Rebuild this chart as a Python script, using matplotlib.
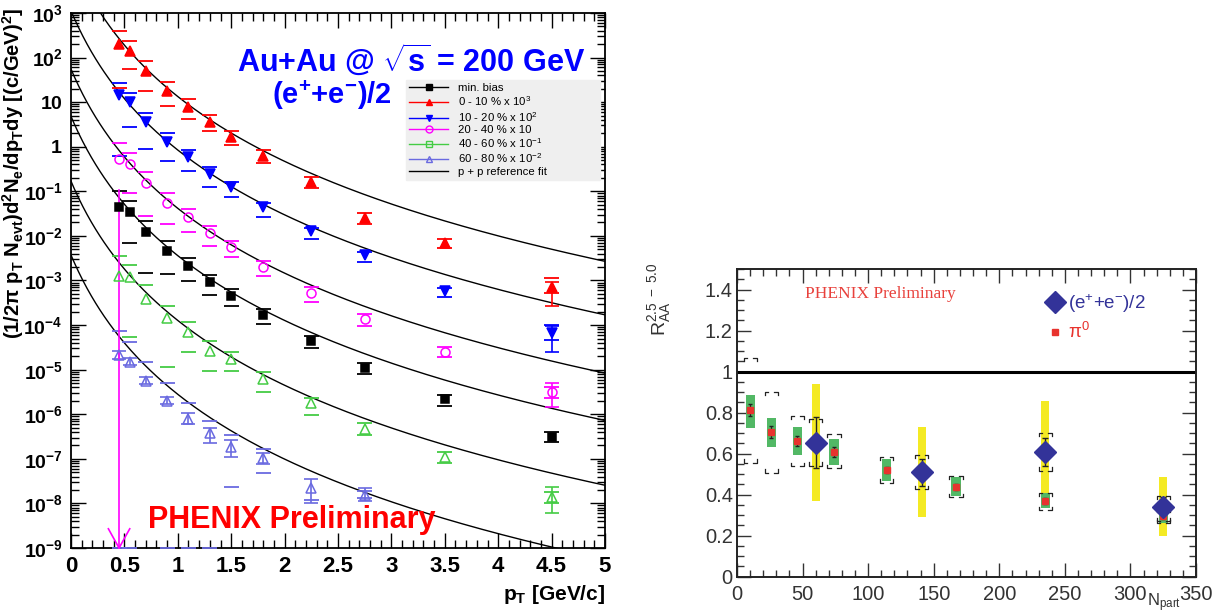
#!/usr/bin/env python3
"""Au+Au single electron spectra (left) and R_AA vs N_part (right)."""
import numpy as np
import matplotlib
matplotlib.use("Agg")
import matplotlib.pyplot as plt
from matplotlib.lines import Line2D
from matplotlib.ticker import MultipleLocator, LogLocator, NullFormatter

plt.rcParams["font.family"] = ["Liberation Sans", "DejaVu Sans"]
plt.rcParams["mathtext.fontset"] = "custom"
plt.rcParams["mathtext.rm"] = "Liberation Sans"
plt.rcParams["mathtext.it"] = "Liberation Sans:italic"
plt.rcParams["mathtext.bf"] = "Liberation Sans:bold"
plt.rcParams["mathtext.default"] = "bf"

nan = np.nan

# ---- left panel: invariant yields ----
PT = [0.45, 0.55, 0.7, 0.9, 1.1, 1.3, 1.5, 1.8, 2.25, 2.75, 3.5, 4.5]

mb_y = [0.0452, 0.0349, 0.0120, 0.00466, 0.00215, 9.1e-4, 4.56e-4, 1.68e-4, 4.40e-5, 1.07e-5, 2.16e-6, 3.13e-7]
mb_hi = [0.103, 0.0617, 0.0219, 0.00767, 0.00325, 0.00133, 6.44e-4, 2.25e-4, 5.77e-5, 1.39e-5, 2.70e-6, 3.93e-7]
mb_lo = [nan, 0.00683, 0.00145, 0.00138, 9.7e-4, 4.72e-4, 2.68e-4, 1.04e-4, 3.1e-5, 7.85e-6, 1.55e-6, 2.34e-7]

c0010_y = [202, 141, 50, 17.8, 7.8, 3.59, 1.65, 0.62, 0.162, 0.0252, 0.00693, 7.1e-4]
c0010_hi = [395, 235, 84, 28.3, 11.8, 5.15, 2.25, 0.845, 0.209, 0.0327, 0.00853, 1.14e-3]
c0010_lo = [20.8, 55.5, 17.8, 8.2, 4.19, 2.25, 1.09, 0.43, 0.119, 0.0185, 0.00536, 5.24e-4]
c0010_stat45 = (9.25e-4, 2.68e-4)

c1020_y = [14.5, 10.2, 3.65, 1.30, 0.598, 0.245, 0.127, 0.0437, 0.0131, 0.00373, 5.9e-4, 6.75e-5]
c1020_hi = [26.9, 16.3, 5.81, 2.0, 0.845, 0.346, 0.164, 0.0556, 0.0148, 0.00443, 6.67e-4, 1.0e-4]
c1020_lo = [0.62, 2.82, 0.889, 0.486, 0.290, 0.127, 0.0733, 0.0270, 0.00837, 0.00264, 4.2e-4, 4.62e-5]
c1020_stat45 = (9.5e-5, 2.52e-5)

c2040_y = [0.522, 0.410, 0.151, 0.0556, 0.0261, 0.0114, 0.00573, 0.00204, 5.16e-4, 1.37e-4, 2.52e-5, 3.2e-6]
c2040_hi = [1.19, 0.734, 0.267, 0.0902, 0.0395, 0.0167, 0.0078, 0.00277, 7.03e-4, 1.77e-4, 3.27e-5, 4.14e-6]
c2040_lo = [nan, 0.0902, 0.0284, 0.0185, 0.0124, 0.00602, 0.00331, 0.00126, 3.34e-4, 9.7e-5, 1.89e-5, 2.28e-6]
c2040_stat45 = (4.94e-6, 1.48e-6)

c4060_y = [0.00128, 0.00118, 3.85e-4, 1.42e-4, 7.1e-5, 2.66e-5, 1.71e-5, 6.07e-6, 1.76e-6, 4.66e-7, 1.11e-7, 1.41e-8]
c4060_hi = [0.00354, 0.00222, 7.93e-4, 2.68e-4, 1.19e-4, 4.46e-5, 2.52e-5, 8.7e-6, 2.28e-6, 6.25e-7, 1.44e-7, 1.83e-8]
c4060_lo = [nan, 5.3e-5, nan, 1.13e-5, 2.52e-5, 9.5e-6, 9.5e-6, 3.2e-6, 9.6e-7, 3.42e-7, 7.9e-8, 1.0e-8]
c4060_stat45 = (2.3e-8, 6.0e-9)

# 60-80 % only measured up to 2.75 GeV/c
c6080_y = [2.13e-5, 1.51e-5, 5.65e-6, 2.01e-6, 7.8e-7, 3.73e-7, 1.87e-7, 1.03e-7, 2.18e-8, 1.54e-8]
c6080_hi = [7.46e-5, 4.1e-5, 1.51e-5, 4.94e-6, 1.76e-6, 7.2e-7, 3.42e-7, 1.63e-7, nan, 1.92e-8]
c6080_lo = [1e-9, 1e-9, nan, 1e-9, 1e-9, 1e-9, 2.3e-8, 4.73e-8, 1.19e-8, 1.3e-8]
c6080_stat_hi = [2.66e-5, 1.82e-5, 6.84e-6, 2.47e-6, 1.05e-6, 4.83e-7, 2.64e-7, 1.33e-7, 3.52e-8, 2.18e-8]
c6080_stat_lo = [1.73e-5, 1.27e-5, 4.69e-6, 1.67e-6, 6.04e-7, 2.23e-7, 1.08e-7, 7.64e-8, 1.04e-8, 1.15e-8]

# lower-limit arrow of the 20-40 % point at 0.45 GeV/c
arrow_pt = 0.45
arrow_top = 0.107

# p+p reference fit, scaled by N_coll and the plotting factor
pp_A, pp_p0, pp_n = 0.01866, 0.5, 6.55
NCOLL = {"mb": 257.8, "0010": 955.4, "1020": 602.6, "2040": 296.8, "4060": 90.7, "6080": 20.0}
FACTOR = {"mb": 1.0, "0010": 1e3, "1020": 1e2, "2040": 10.0, "4060": 0.1, "6080": 0.01}

# ---- right panel: R_AA (2.5 - 5.0 GeV/c) ----
npart_pi0 = [10, 26, 46, 74, 114, 167, 235, 325]
raa_pi0 = [0.813, 0.704, 0.662, 0.609, 0.520, 0.438, 0.370, 0.295]
raa_pi0_stat = [0.03, 0.028, 0.025, 0.024, 0.015, 0.015, 0.015, 0.015]
raa_pi0_sys_lo = [0.724, 0.634, 0.593, 0.544, 0.468, 0.393, 0.333, 0.260]
raa_pi0_sys_hi = [0.886, 0.772, 0.728, 0.670, 0.572, 0.484, 0.406, 0.325]
raa_pi0_br_lo = [0.556, 0.507, 0.540, 0.528, 0.458, 0.387, 0.325, 0.27]
raa_pi0_br_hi = [1.065, 0.902, 0.785, 0.696, 0.585, 0.491, 0.409, 0.33]

npart_e = [60, 141, 235, 325]
raa_e = [0.653, 0.510, 0.606, 0.341]
raa_e_stat_lo = [0.528, 0.442, 0.540, 0.292]
raa_e_stat_hi = [0.780, 0.572, 0.678, 0.387]
raa_e_sys_lo = [0.370, 0.292, 0.40, 0.198]
raa_e_sys_hi = [0.940, 0.727, 0.857, 0.484]
raa_e_br_lo = [0.541, 0.426, 0.516, 0.260]
raa_e_br_hi = [0.769, 0.593, 0.702, 0.393]

W, H = 1221, 614
fig = plt.figure(figsize=(W / 100, H / 100), dpi=100)


def px_axes(x0, y0, x1, y1):
    return fig.add_axes([x0 / W, 1 - y1 / H, (x1 - x0) / W, (y1 - y0) / H])


# ================= left =================
axL = px_axes(71, 13, 605, 548)
axL.set_yscale("log")
axL.set_xlim(0, 5)
axL.set_ylim(1e-9, 1e3)

pt_fine = np.linspace(0.0, 5.0, 500)
pp_fit = pp_A * (1 + pt_fine / pp_p0) ** (-pp_n)
for key in NCOLL:
    axL.plot(pt_fine, pp_fit * NCOLL[key] * FACTOR[key], color="black", lw=1.0, zorder=2)

HW = 0.07  # half width of the error dashes


def dashes(x, vals, color):
    x = np.asarray(x, float)
    v = np.asarray(vals, float)
    ok = ~np.isnan(v)
    axL.hlines(v[ok], x[ok] - HW, x[ok] + HW, colors=color, lw=1.3, zorder=3, clip_on=False)


series = [
    ("mb", mb_y, mb_hi, mb_lo, "black", "s", True),
    ("0010", c0010_y, c0010_hi, c0010_lo, "#ff0000", "^", True),
    ("1020", c1020_y, c1020_hi, c1020_lo, "#0000ff", "v", True),
    ("2040", c2040_y, c2040_hi, c2040_lo, "#ff00ff", "o", False),
    ("4060", c4060_y, c4060_hi, c4060_lo, "#44cc44", "^", False),
    ("6080", c6080_y, c6080_hi, c6080_lo, "#6a6ae0", "^", False),
]
stat45 = {"0010": c0010_stat45, "1020": c1020_stat45, "2040": c2040_stat45, "4060": c4060_stat45}

for key, y, hi, lo, col, mk, filled in series:
    x = PT[:len(y)]
    dashes(x, hi, col)
    dashes(x, lo, col)
    if key in stat45:
        sh, sl = stat45[key]
        axL.errorbar([x[-1]], [y[-1]], yerr=[[y[-1] - sl], [sh - y[-1]]], fmt="none",
                     ecolor=col, elinewidth=1.2, capsize=5, capthick=1.2, zorder=3)
    if key == "6080":
        ys = np.asarray(y)
        axL.errorbar(x, ys, yerr=[ys - np.asarray(c6080_stat_lo), np.asarray(c6080_stat_hi) - ys],
                     fmt="none", ecolor=col, elinewidth=1.2, capsize=5, capthick=1.2, zorder=3)
    axL.plot(x, y, ls="none", marker=mk, ms=6.5 if mk != "s" else 6,
             mfc=col if filled else "none", mec=col, mew=1.1, zorder=4)

# magenta lower-limit arrow
axL.plot([arrow_pt, arrow_pt], [arrow_top, 1e-9], color="#ff00ff", lw=1.2, zorder=3, clip_on=False)
axL.plot([arrow_pt - 0.1, arrow_pt, arrow_pt + 0.1], [2.7e-9, 1e-9, 2.7e-9],
         color="#ff00ff", lw=1.2, zorder=3, clip_on=False)

xt = np.arange(0, 5.01, 0.5)
axL.set_xticks(xt)
axL.set_xticklabels(["%g" % v for v in xt], fontsize=16, fontweight="bold")
axL.xaxis.set_minor_locator(MultipleLocator(0.1))
ydec = list(range(-9, 4))
axL.set_yticks([10.0 ** d for d in ydec])
axL.yaxis.set_minor_locator(LogLocator(base=10, subs=np.arange(2, 10), numticks=20))
axL.yaxis.set_minor_formatter(NullFormatter())
ylabs = []
for d in ydec:
    if d == 0:
        ylabs.append(r"$1$")
    elif d == 1:
        ylabs.append(r"$10$")
    else:
        ylabs.append(r"$10^{%d}$" % d)
axL.set_yticklabels(ylabs, fontsize=14)
axL.tick_params(which="both", direction="in", top=True, right=True, width=1.0)
axL.tick_params(which="major", length=11, pad=6)
axL.tick_params(which="minor", length=5.5)
for s in axL.spines.values():
    s.set_linewidth(1.3)

fig.text(13 / W, 1 - 8 / H,
         r"(1/2$\pi$ p$_T$ N$_{evt}$)d$^2$N$_e$/dp$_T$dy [(c/GeV)$^2$]",
         rotation=90, ha="center", va="top", fontsize=14.5, fontweight="bold")
fig.text(605 / W, 1 - 600 / H, r"p$_T$ [GeV/c]", ha="right", va="baseline",
         fontsize=15, fontweight="bold")
fig.text(411 / W, 1 - 72 / H, r"Au+Au @ $\sqrt{s}$ = 200 GeV", ha="center",
         va="baseline", fontsize=22, fontweight="bold", color="#0000ff")
fig.text(332 / W, 1 - 104 / H, r"(e$^{+}$+e$^{-}$)/2", ha="center",
         va="baseline", fontsize=21, fontweight="bold", color="#0000ff")
fig.text(292 / W, 1 - 528 / H, "PHENIX Preliminary", ha="center", va="baseline",
         fontsize=22, fontweight="bold", color="#ff0000")

handles = [
    Line2D([], [], color="black", marker="s", ms=5, lw=1),
    Line2D([], [], color="#ff0000", marker="^", ms=5, lw=1),
    Line2D([], [], color="#0000ff", marker="v", ms=5, lw=1),
    Line2D([], [], color="#ff00ff", marker="o", ms=5, mfc="none", lw=1),
    Line2D([], [], color="#44cc44", marker="s", ms=5, mfc="none", lw=1),
    Line2D([], [], color="#6a6ae0", marker="^", ms=5, mfc="none", lw=1),
    Line2D([], [], color="black", lw=1),
]
labels = ["min. bias", r"0 - 10 % x 10$^{\mathrm{3}}$", r"10 - 20 % x 10$^{\mathrm{2}}$",
          "20 - 40 % x 10", r"40 - 60 % x 10$^{\mathrm{-1}}$", r"60 - 80 % x 10$^{\mathrm{-2}}$",
          "p + p reference fit"]
leg = axL.legend(handles, labels, loc="upper left", bbox_to_anchor=(0.627, 0.688, 0.364, 0.187),
                 mode="expand", fontsize=8.2, frameon=True, fancybox=False, framealpha=1,
                 facecolor="#efefef", edgecolor="#efefef", handlelength=3.4,
                 labelspacing=0.12, borderpad=0.3, handletextpad=0.9, borderaxespad=0)
leg.set_zorder(5)

# ================= right =================
axR = px_axes(737, 269, 1196, 576.5)
axR.set_xlim(0, 350)
axR.set_ylim(0, 1.5)
axR.axhline(1.0, color="black", lw=2.2, zorder=2)

axR.bar(npart_e, np.subtract(raa_e_sys_hi, raa_e_sys_lo), bottom=raa_e_sys_lo, width=6,
        color="#f4ea24", zorder=2)
axR.bar(npart_pi0, np.subtract(raa_pi0_sys_hi, raa_pi0_sys_lo), bottom=raa_pi0_sys_lo, width=7,
        color="#52b865", zorder=3)


def brackets(xs, los, his):
    bw, bs, leg_h = 5.0, 2.6, 0.016
    for x, lo, hi in zip(xs, los, his):
        for yv, d in ((hi, -leg_h), (lo, leg_h)):
            axR.plot([x - bw, x - bw, x - bw + bs], [yv + d, yv, yv], color="#222222", lw=0.9, zorder=4)
            axR.plot([x + bw, x + bw, x + bw - bs], [yv + d, yv, yv], color="#222222", lw=0.9, zorder=4)


brackets(npart_pi0, raa_pi0_br_lo, raa_pi0_br_hi)
brackets(npart_e, raa_e_br_lo, raa_e_br_hi)

axR.errorbar(npart_pi0, raa_pi0, yerr=raa_pi0_stat, fmt="none", ecolor="#222222",
             elinewidth=0.9, capsize=1.5, zorder=5)
axR.errorbar(npart_e, raa_e, yerr=[np.subtract(raa_e, raa_e_stat_lo), np.subtract(raa_e_stat_hi, raa_e)],
             fmt="none", ecolor="#222222", elinewidth=1.0, capsize=2.5, zorder=5)
axR.plot(npart_pi0, raa_pi0, ls="none", marker="s", ms=5, color="#e8332e", zorder=6)
axR.plot(npart_e, raa_e, ls="none", marker="D", ms=11, color="#333399", zorder=7)

axR.xaxis.set_major_locator(MultipleLocator(50))
axR.xaxis.set_minor_locator(MultipleLocator(10))
axR.set_yticks([0, 0.2, 0.4, 0.6, 0.8, 1.0, 1.2, 1.4])
axR.set_yticklabels(["0", "0.2", "0.4", "0.6", "0.8", "1", "1.2", "1.4"])
axR.yaxis.set_minor_locator(MultipleLocator(0.05))
axR.tick_params(which="both", direction="in", top=True, right=True, colors="#333333",
                labelsize=14.5, width=1.0)
axR.tick_params(which="major", length=10)
axR.tick_params(which="minor", length=5)
axR.tick_params(axis="x", pad=6)
axR.tick_params(axis="y", pad=3)
for s in axR.spines.values():
    s.set_linewidth(1.4)
    s.set_color("#222222")

fig.text(880 / W, 1 - 298 / H, "PHENIX Preliminary", ha="center", va="baseline",
         fontsize=12.5, color="#e8413c", family="Liberation Serif")
fig.text(660 / W, 1 - 262 / H, r"R$_{\mathrm{AA}}^{\mathrm{2.5\ -\ 5.0}}$", rotation=90, ha="center",
         va="top", fontsize=14, color="#333333")
fig.text(1181 / W, 1 - 606 / H, r"N$_{\mathrm{part}}$", ha="right", va="baseline", fontsize=12,
         color="#333333")

rh = [Line2D([], [], ls="none", marker="D", ms=11, color="#333399"),
      Line2D([], [], ls="none", marker="s", ms=5, color="#e8332e")]
legR = axR.legend(rh, [r"(e$^{\mathrm{+}}$+e$^{\mathrm{-}}$)/2", r"$\mathrm{\pi^0}$"], loc="upper left",
                  bbox_to_anchor=(0.66, 0.95), frameon=False, fontsize=13.5,
                  handlelength=0.8, handletextpad=0.3, labelspacing=0.4, borderaxespad=0)
for t, c in zip(legR.get_texts(), ["#333399", "#e8332e"]):
    t.set_color(c)

fig.savefig("out.png", dpi=100)
